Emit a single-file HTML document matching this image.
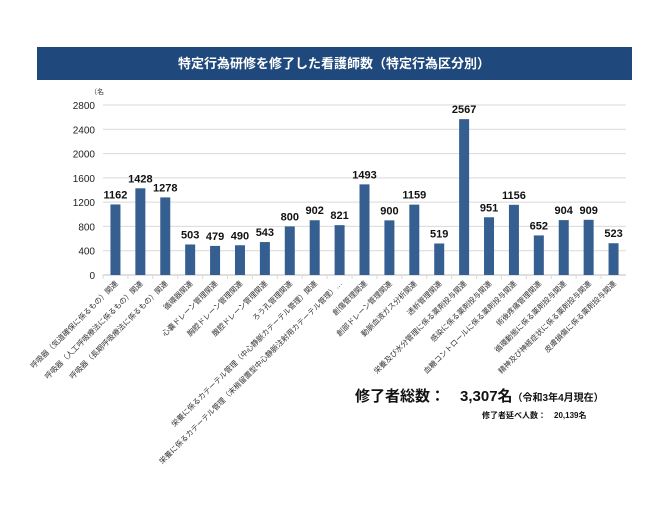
<!DOCTYPE html>
<html><head><meta charset="utf-8"><style>
body{margin:0;background:#fff;width:670px;height:500px;overflow:hidden;font-family:"Liberation Sans","Noto Sans CJK JP",sans-serif}
</style></head><body>
<svg id="chart" width="670" height="500" xmlns="http://www.w3.org/2000/svg" style="font-family:'Liberation Sans','Noto Sans CJK JP',sans-serif">
<rect x="37" y="47" width="595" height="33" fill="#1f497d"/>
<text x="334" y="68" text-anchor="middle" fill="#fff" font-size="13" font-weight="bold">特定行為研修を修了した看護師数（特定行為区分別）</text>
<text x="90" y="94" font-size="7" fill="#333">（名</text>
<g id="grid"></g><g id="bars"></g><g id="labels"></g>
<text x="355" y="401" font-size="15" font-weight="bold" fill="#111">修了者総数：　3,307名<tspan font-size="10">（令和3年4月現在）</tspan></text>
<text x="482" y="418" font-size="8" font-weight="bold" fill="#111">修了者延べ人数：　20,139名</text>
</svg>
<script>
const categories=["呼吸器（気道確保に係るもの）関連","呼吸器（人工呼吸療法に係るもの）関連","呼吸器（長期呼吸療法に係るもの）関連","循環器関連","心嚢ドレーン管理関連","胸腔ドレーン管理関連","腹腔ドレーン管理関連","ろう孔管理関連","栄養に係るカテーテル管理（中心静脈カテーテル管理）関連","栄養に係るカテーテル管理（末梢留置型中心静脈注射用カテーテル管理）…","創傷管理関連","創部ドレーン管理関連","動脈血液ガス分析関連","透析管理関連","栄養及び水分管理に係る薬剤投与関連","感染に係る薬剤投与関連","血糖コントロールに係る薬剤投与関連","術後疼痛管理関連","循環動態に係る薬剤投与関連","精神及び神経症状に係る薬剤投与関連","皮膚損傷に係る薬剤投与関連"];
const values=[1162,1428,1278,503,479,490,543,800,902,821,1493,900,1159,519,2567,951,1156,652,904,909,523];
const ticks=[0,400,800,1200,1600,2000,2400,2800];
const NS="http://www.w3.org/2000/svg";
const x0=103,x1=626,y0=275,y1=105,ymax=2800;
const bw=(x1-x0)/categories.length;
function y(v){return y0-(v/ymax)*(y0-y1);}
function xc(i){return x0+bw*(i+0.5);}
function mk(t,a,p){const e=document.createElementNS(NS,t);for(const k in a)e.setAttribute(k,a[k]);p.appendChild(e);return e;}
const g=document.getElementById('grid'),b=document.getElementById('bars'),l=document.getElementById('labels');
ticks.forEach(t=>{
 const ln=mk('line',{x1:x0,x2:x1,y1:y(t),y2:y(t),stroke:t?'#d9d9d9':'#bfbfbf','stroke-width':1},g);
 
 
 const tx=mk('text',{x:x0-8,y:y(t)+4,'text-anchor':'end','font-size':10,fill:'#222'},g);
 tx.textContent=t;
 
 
});
categories.forEach((c,i)=>{
 const v=values[i];
 const r=mk('rect',{x:xc(i)-5,y:y(v),width:10,height:y0-y(v),fill:'#365f91'},b);
 
 
 const vt=mk('text',{x:xc(i),y:y(v)-6,'text-anchor':'middle','font-size':11,'font-weight':'bold',fill:'#111'},b);
 vt.textContent=v;
 
 
 const tk=mk('line',{x1:x0+bw*i,x2:x0+bw*i,y1:y0,y2:y0+4,stroke:'#d9d9d9'},g);
 
 
 const lt=mk('text',{x:xc(i)+3,y:y0+9,'text-anchor':'end','font-size':7.5,fill:'#333',transform:`rotate(-45 ${xc(i)+3} ${y0+9})`},l);
 lt.textContent=c;
 
 
});
</script>
</body></html>
